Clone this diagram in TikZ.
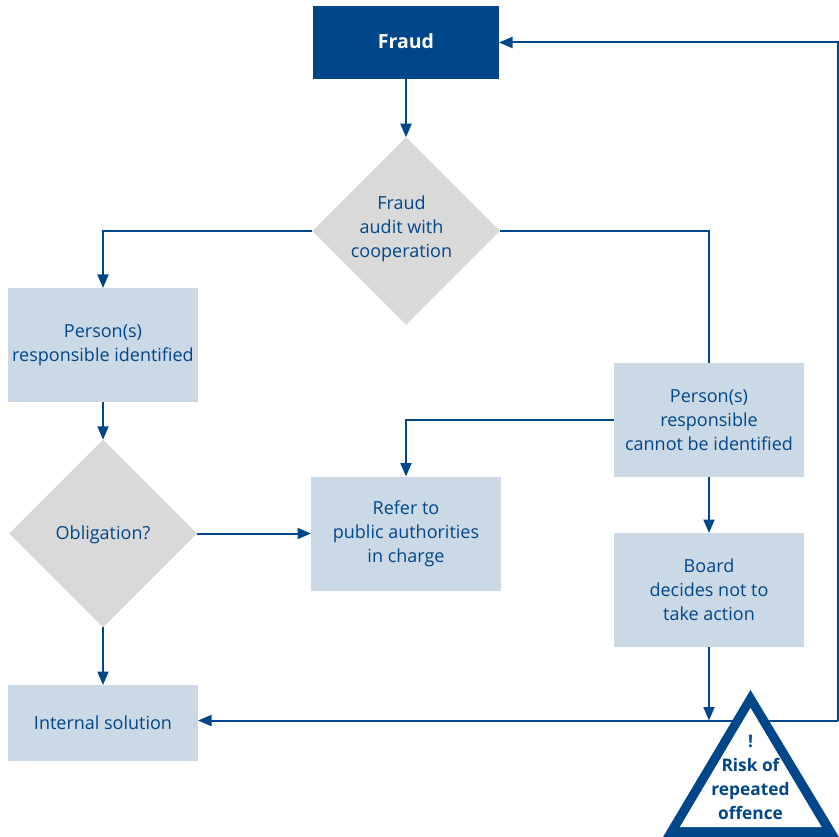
\documentclass[tikz,border=0pt]{standalone}
\usepackage{fontspec}
\setmainfont{Open Sans}
\usetikzlibrary{arrows.meta,shapes.geometric}
\definecolor{navy}{HTML}{00468A}
\definecolor{pale}{HTML}{CBD9E6}
\definecolor{midgray}{HTML}{D9D9D9}
\tikzset{
  base/.style={inner sep=0pt,outer sep=0pt,align=center,text=navy,font=\fontsize{18}{24}\selectfont},
  palebox/.style={base,fill=pale,minimum width=190pt},
  choice/.style={base,fill=midgray,diamond,aspect=1,minimum width=187.5pt,minimum height=187.5pt},
  topbox/.style={base,fill=navy,text=white,minimum width=186pt,minimum height=73pt,font=\fontsize{19.5}{24}\selectfont\bfseries},
  link/.style={draw=navy,line width=2pt},
  flow/.style={link,-{Triangle[length=13.5pt,width=11pt]}},
}
\begin{document}
\begin{tikzpicture}[x=1pt,y=-1pt]
\useasboundingbox (0,0) rectangle (839,837);
\node[topbox] (fraud) at (406,42.5) {};
\node[base,text=white,font=\fontsize{19.5}{24}\selectfont\bfseries] (fraudtext) at (406,41) {Fraud};
\node[choice] (audit) at (406,231) {};
\node[base] (audittext) at (401.5,228.5) {Fraud\\audit with\\cooperation};
\node[palebox,minimum height=114pt] (known) at (103,345) {};
\node[base] (knowntext) at (103,345.5) {Person(s)\\responsible identified};
\node[choice] (oblig) at (103,533.5) {};
\node[base] (obligtext) at (103,534.5) {Obligation?};
\node[palebox,minimum height=114pt] (refer) at (406,533.5) {};
\node[base] (refertext) at (406,534) {Refer to\\public authorities\\in charge};
\node[palebox,minimum height=114pt] (unknown) at (709,420) {Person(s)\\responsible\\cannot be identified};
\node[palebox,minimum height=114pt] (board) at (709,590) {Board\\decides not to\\take action};
\node[palebox,minimum height=76pt] (internal) at (103,723) {Internal solution};
\coordinate (join) at (709,720.5);
\coordinate (corner) at (838,720.5);
\coordinate (top) at (838,42.5);
% connectors
\draw[flow] (fraud.south) -- (audit.north);
\draw[flow] (audit.west) -| (known.north);
\draw[link] (audit.east) -| (unknown.north);
\draw[flow] (unknown.west) -| (refer.north);
\draw[flow] (unknown.south) -- (board.north);
\draw[flow] (known.south) -- (oblig.north);
\draw[flow] (oblig.east) -- (refer.west);
\draw[flow] (oblig.south) -- (internal.north);
\draw[flow] (board.south) -- (join);
\draw[flow] (corner) -- (internal.east |- corner);
\draw[flow] (corner) -- (top) -- (fraud.east |- top);
% warning triangle
\fill[navy,even odd rule] (750.5,690) -- (839,837) -- (663,837) -- cycle
  (750.5,708) -- (680,827) -- (821.5,827) -- cycle;
\fill[white] (750.5,708) -- (680,827) -- (821.5,827) -- cycle;
\node[base,font=\fontsize{17.3}{24}\selectfont\bfseries] (risk) at (750.5,777) {!\\Risk of\\repeated\\offence};
\end{tikzpicture}
\end{document}
